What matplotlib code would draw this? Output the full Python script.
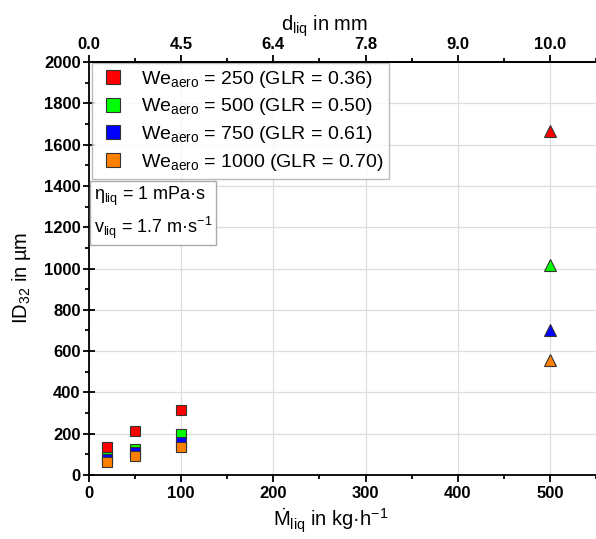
import matplotlib.pyplot as plt
from matplotlib.ticker import MultipleLocator, FixedLocator

plt.rcParams['font.family'] = ['Liberation Sans', 'DejaVu Sans']
plt.rcParams['mathtext.fontset'] = 'custom'
plt.rcParams['mathtext.rm'] = 'Liberation Sans'
plt.rcParams['mathtext.it'] = 'Liberation Sans:italic'
plt.rcParams['mathtext.bf'] = 'Liberation Sans:bold'

# Flüssigkeitsmassenstrom in kg/h
m_liq = [20, 50, 100]
m_liq_big = [500]

# ID32 in µm, je We_aero
we_labels = ['250 (GLR = 0.36)', '500 (GLR = 0.50)', '750 (GLR = 0.61)', '1000 (GLR = 0.70)']
colors = ['#ff0000', '#00ff00', '#0000ff', '#ff8000']
id32_small = [
    [135, 213, 317],
    [89, 125, 200],
    [78, 110, 162],
    [62, 90, 135],
]
id32_big = [[1665], [1017], [704], [558]]

# obere Achse: Düsendurchmesser
d_ticks = [0, 100, 200, 300, 400, 500]
d_labels = ['0.0', '4.5', '6.4', '7.8', '9.0', '10.0']

fig = plt.figure(figsize=(5.96, 5.39), dpi=100)
ax = fig.add_axes([0.1493, 0.1187, 0.8507, 0.7663])

for i in range(4):
    ax.plot(m_liq, id32_small[i], 's', color=colors[i], mec='#333333', mew=0.8, ms=7,
            label='We$_{\\mathrm{aero}}$ = ' + we_labels[i])
    ax.plot(m_liq_big, id32_big[i], '^', color=colors[i], mec='#333333', mew=0.8, ms=8)

ax.set_xlim(0, 550)
ax.set_ylim(0, 2000)
ax.xaxis.set_major_locator(MultipleLocator(100))
ax.xaxis.set_minor_locator(MultipleLocator(50))
ax.yaxis.set_major_locator(MultipleLocator(200))
ax.yaxis.set_minor_locator(MultipleLocator(100))
ax.grid(True, color='#dddddd', lw=0.9)
ax.set_axisbelow(True)

ax.spines['right'].set_visible(False)
for s in ['left', 'bottom', 'top']:
    ax.spines[s].set_linewidth(1.3)

ax.tick_params(axis='x', which='major', direction='out', length=5, width=1.3, labelsize=12, pad=3)
ax.tick_params(axis='x', which='minor', direction='out', length=3, width=1.3)
ax.tick_params(axis='y', which='major', direction='inout', length=8, width=1.3, labelsize=12, pad=2)
ax.tick_params(axis='y', which='minor', direction='out', length=3, width=1.3)
for lbl in ax.get_xticklabels() + ax.get_yticklabels():
    lbl.set_fontweight('bold')

ax.set_xlabel('$\\dot{\\mathrm{M}}_{\\mathrm{liq}}$ in kg·h$^{-1}$', fontsize=14.5, labelpad=4)
ax.xaxis.label.set_x(0.477)
ax.set_ylabel('ID$_{32}$ in µm', fontsize=14.5, labelpad=8)
ax.yaxis.label.set_y(0.477)

# obere Achse
top = ax.twiny()
top.set_xlim(ax.get_xlim())
top.xaxis.set_major_locator(FixedLocator(d_ticks))
top.xaxis.set_minor_locator(MultipleLocator(50))
top.set_xticklabels(d_labels, fontweight='bold', fontsize=12)
top.tick_params(axis='x', which='major', direction='out', length=5, width=1.3, pad=2)
top.tick_params(axis='x', which='minor', direction='out', length=3, width=1.3)
top.set_xlabel('d$_{\\mathrm{liq}}$ in mm', fontsize=14.5, labelpad=5)
top.xaxis.label.set_x(0.465)
for s in ['right', 'left', 'bottom']:
    top.spines[s].set_visible(False)
top.spines['top'].set_linewidth(1.3)

leg = ax.legend(loc='upper left', bbox_to_anchor=(0.006, 0.998), borderaxespad=0,
                fontsize=14, frameon=True, fancybox=False, edgecolor='#aaaaaa',
                handletextpad=0.6, labelspacing=0.35, borderpad=0.3, handlelength=1.6)
leg.get_frame().set_linewidth(1.0)
for h in leg.legend_handles:
    h.set_markersize(10)

ax.text(0.010, 0.703, 'η$_{\\mathrm{liq}}$ = 1 mPa·s\nv$_{\\mathrm{liq}}$ = 1.7 m·s$^{-1}$',
        transform=ax.transAxes, ha='left', va='top', fontsize=13, linespacing=1.4,
        bbox=dict(boxstyle='square,pad=0.2', fc='white', ec='#aaaaaa', lw=1.0))

fig.savefig('out.png', dpi=100)
